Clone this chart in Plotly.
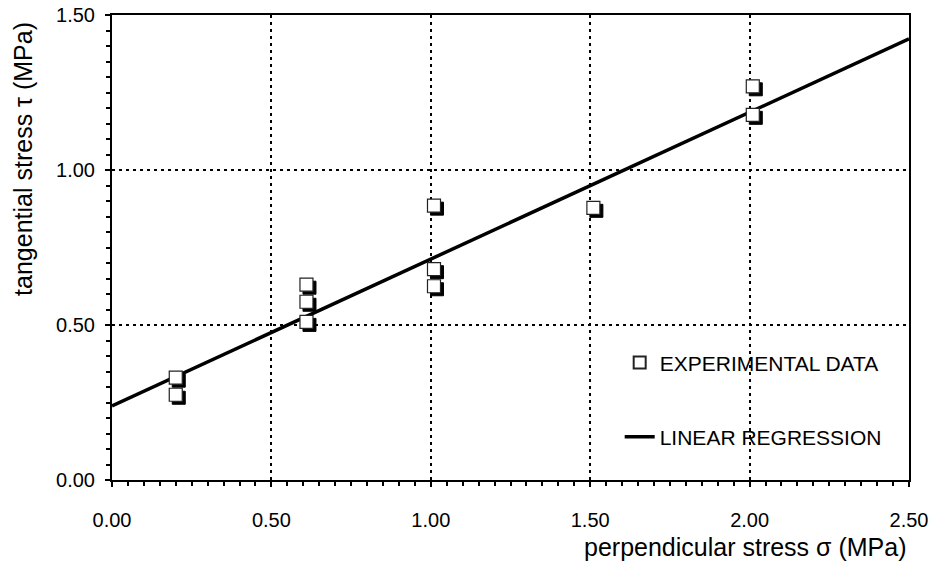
import plotly.graph_objects as go

# ---- data ----
sigma_exp = [0.20, 0.20, 0.61, 0.61, 0.61, 1.01, 1.01, 1.01, 1.51, 2.01, 2.01]
tau_exp = [0.33, 0.275, 0.63, 0.575, 0.51, 0.885, 0.68, 0.625, 0.878, 1.27, 1.178]

sigma_reg = [0.0, 2.5]
tau_reg = [0.239, 1.423]

x_ticks = [0.0, 0.5, 1.0, 1.5, 2.0, 2.5]
y_ticks = [0.0, 0.5, 1.0, 1.5]

X_RANGE = [0.0, 2.5]
Y_RANGE = [0.0, 1.5]

W, H = 931, 562
M_L, M_R, M_T, M_B = 112, 22, 15, 82
plot_w = W - M_L - M_R
plot_h = H - M_T - M_B

SHADOW_PX = 3
dx = SHADOW_PX * (X_RANGE[1] - X_RANGE[0]) / plot_w
dy = SHADOW_PX * (Y_RANGE[1] - Y_RANGE[0]) / plot_h

FONT = "Liberation Sans, Arial, sans-serif"
DOT = "3px,4px"

fig = go.Figure()

# regression line (main axes)
fig.add_trace(go.Scatter(
    x=sigma_reg, y=tau_reg, mode="lines",
    line=dict(color="black", width=3.5),
    name="LINEAR REGRESSION", legend="legend2", showlegend=True,
    xaxis="x", yaxis="y",
))

# marker shadows (overlay axes shifted by a few pixels)
fig.add_trace(go.Scatter(
    x=sigma_exp, y=tau_exp, mode="markers",
    marker=dict(symbol="square", size=13, color="black",
                line=dict(color="black", width=1)),
    showlegend=False, hoverinfo="skip",
    xaxis="x2", yaxis="y2",
))

# experimental data markers
fig.add_trace(go.Scatter(
    x=sigma_exp, y=tau_exp, mode="markers",
    marker=dict(symbol="square", size=13, color="white",
                line=dict(color="#222222", width=1.2)),
    name="EXPERIMENTAL DATA", legend="legend", showlegend=True,
    xaxis="x3", yaxis="y3",
))

axis_common = dict(
    showline=True, linecolor="black", linewidth=2, mirror=True,
    ticks="outside", ticklen=5, tickwidth=1.5, tickcolor="black",
    showgrid=True, gridcolor="black", gridwidth=2, griddash=DOT,
    zeroline=False, tickformat=".2f", automargin=False,
    tickfont=dict(family=FONT, size=20, color="black"),
)

fig.update_layout(
    width=W, height=H,
    margin=dict(l=M_L, r=M_R, t=M_T, b=M_B, autoexpand=False),
    paper_bgcolor="white", plot_bgcolor="white",
    font=dict(family=FONT, color="black"),
    xaxis=dict(range=X_RANGE, tickvals=x_ticks, ticklabelstandoff=16,
               minor=dict(ticks="outside", dtick=0.05, ticklen=4,
                          tickwidth=1.5, tickcolor="black", showgrid=False),
               **axis_common),
    yaxis=dict(range=Y_RANGE, tickvals=y_ticks, ticklabelstandoff=6,
               minor=dict(ticks="outside", dtick=0.05, ticklen=4,
                          tickwidth=1.5, tickcolor="black", showgrid=False),
               **axis_common),
    xaxis2=dict(range=[X_RANGE[0] - dx, X_RANGE[1] - dx], overlaying="x",
                visible=False, automargin=False),
    yaxis2=dict(range=[Y_RANGE[0] + dy, Y_RANGE[1] + dy], overlaying="y",
                visible=False, automargin=False),
    xaxis3=dict(range=X_RANGE, overlaying="x", visible=False, automargin=False),
    yaxis3=dict(range=Y_RANGE, overlaying="y", visible=False, automargin=False),
    legend=dict(x=0.637, y=0.252, xanchor="left", yanchor="middle",
                bgcolor="rgba(0,0,0,0)", itemwidth=30, itemsizing="constant",
                font=dict(family=FONT, size=21, color="black")),
    legend2=dict(x=0.637, y=0.0925, xanchor="left", yanchor="middle",
                 bgcolor="rgba(0,0,0,0)", itemwidth=30,
                 font=dict(family=FONT, size=21, color="black")),
    showlegend=True,
    annotations=[
        dict(text="tangential stress \u03c4 (MPa)", textangle=-90,
             xref="paper", yref="paper", x=-0.112, y=0.69,
             xanchor="center", yanchor="middle", showarrow=False,
             font=dict(family=FONT, size=25, color="black")),
        dict(text="perpendicular stress \u03c3 (MPa)",
             xref="paper", yref="paper", x=1.0, y=-0.144,
             xanchor="right", yanchor="middle", showarrow=False,
             font=dict(family=FONT, size=25, color="black")),
    ],
)

fig.write_html("out.html")
